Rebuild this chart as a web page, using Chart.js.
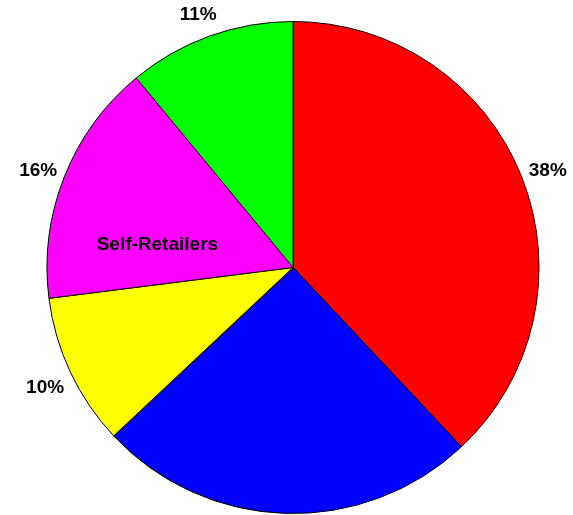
<!DOCTYPE html>
<html>
<head>
<meta charset="utf-8">
<script src="https://cdn.jsdelivr.net/npm/chart.js@4.4.0/dist/chart.umd.min.js"></script>
<style>
  html, body { margin: 0; padding: 0; background: #fff; }
  canvas { display: block; }
</style>
</head>
<body>
<canvas id="myChart" width="573" height="515"></canvas>
<script>
// slice data, clockwise from 12 o'clock
const segments = ['A', 'B', 'C', 'Self-Retailers', 'E'];
const shares = [38, 25, 10, 16, 11];
const outerLabels = ['38%', '', '10%', '16%', '11%'];
const innerLabels = ['', '', '', 'Self-Retailers', ''];
const sliceColors = ['#ff0000', '#0000ff', '#ffff00', '#ff00ff', '#00ff00'];

// draws the % labels outside and the name inside the magenta slice
const sliceLabels = {
  id: 'sliceLabels',
  afterDatasetsDraw(chart) {
    const ctx = chart.ctx;
    const arcs = chart.getDatasetMeta(0).data;
    ctx.save();
    ctx.fillStyle = '#000';
    ctx.font = 'bold 19px Arial, "Liberation Sans", sans-serif';
    ctx.textAlign = 'center';
    ctx.textBaseline = 'middle';
    arcs.forEach((arc, i) => {
      const { x, y, startAngle, endAngle, outerRadius } = arc.getProps(['x', 'y', 'startAngle', 'endAngle', 'outerRadius'], true);
      if (outerLabels[i]) {
        const mid = (startAngle + endAngle) / 2;
        const r = outerRadius + 28;
        let lx = x + Math.cos(mid) * r;
        let ly = y + Math.sin(mid) * r + 4;
        // keep the top label from hugging the canvas edge
        if (ly < 15) { lx -= (15 - ly) * 1.5; ly = 15; }
        ctx.fillText(outerLabels[i], lx, ly);
      }
      if (innerLabels[i]) {
        const a = startAngle + (endAngle - startAngle) * 0.3;
        const r = outerRadius * 0.56;
        ctx.fillText(innerLabels[i], x + Math.cos(a) * r, y + Math.sin(a) * r + 1);
      }
    });
    ctx.restore();
  }
};

const ctx = document.getElementById('myChart').getContext('2d');
const chart = new Chart(ctx, {
  type: 'pie',
  data: {
    labels: segments,
    datasets: [{
      data: shares,
      backgroundColor: sliceColors,
      borderColor: '#000',
      borderWidth: 1
    }]
  },
  options: {
    responsive: false,
    animation: false,
    layout: { padding: { top: 21, bottom: 1, left: 46, right: 33 } },
    plugins: {
      legend: { display: false },
      tooltip: { enabled: false }
    }
  },
  plugins: [sliceLabels]
});
</script>
</body>
</html>
